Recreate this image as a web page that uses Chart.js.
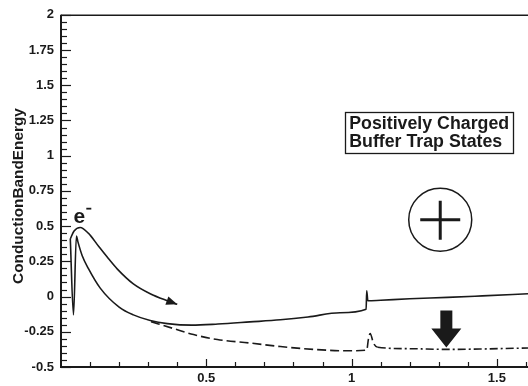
<!DOCTYPE html>
<html><head><meta charset="utf-8">
<script src="https://cdn.jsdelivr.net/npm/chart.js@4/dist/chart.umd.min.js"></script>
<style>html,body{margin:0;padding:0;background:#fff;overflow:hidden}#wrap{width:528px;height:386px}</style>
</head><body><div id="wrap"><canvas id="c" width="528" height="386"></canvas></div>
<script>
// ---- data ----
const solidX = [0.032,0.043,0.053,0.058,0.073,0.094,0.135,0.2,0.249,0.307,0.366,0.45,0.54,0.65,0.755,0.85,0.96,1.05,1.052,1.056,1.1,1.2,1.33,1.45,1.607];
const solidY = [0.41,-0.13,0.43,0.39,0.29,0.2,0.06,-0.075,-0.13,-0.17,-0.192,-0.203,-0.195,-0.18,-0.165,-0.145,-0.115,-0.09,0.04,-0.03,-0.026,-0.016,-0.006,0.005,0.02];

const dashedX = [0.31,0.387,0.456,0.538,0.651,0.755,0.87,0.985,1.052,1.058,1.064,1.075,1.09,1.2,1.329,1.45,1.607];
const dashedY = [-0.178,-0.227,-0.27,-0.305,-0.33,-0.355,-0.375,-0.385,-0.38,-0.3,-0.262,-0.33,-0.36,-0.37,-0.375,-0.372,-0.365];

const pathX = [0.032,0.045,0.066,0.094,0.13,0.163,0.194,0.249,0.307,0.366,0.40];
const pathY = [0.41,0.465,0.49,0.45,0.355,0.27,0.195,0.09,0.02,-0.03,-0.055];

const yTickValues = [-0.5,-0.25,0,0.25,0.5,0.75,1,1.25,1.5,1.75,2];
const yTickLabels = ['-0.5','-0.25','0','0.25','0.5','0.75','1','1.25','1.5','1.75','2'];
const xTickValues = [0.5,1,1.5];
const xTickLabels = ['0.5','1','1.5'];
const yTitle = 'ConductionBandEnergy';
const noteLines = ['Positively Charged','Buffer Trap States'];
const electronLabel = 'e';

const FONT = '"Liberation Sans", Arial, sans-serif';
const INK = '#1a1a1a';
const toPts = (xs, ys) => xs.map((x, i) => ({x, y: ys[i]}));

const deco = {
  id: 'deco',
  afterDraw(chart) {
    const ctx = chart.ctx, xs = chart.scales.x, ys = chart.scales.y, a = chart.chartArea;
    ctx.save();
    ctx.strokeStyle = INK; ctx.fillStyle = INK;
    // axes frame
    ctx.lineWidth = 2;
    ctx.beginPath(); ctx.moveTo(a.left, a.top); ctx.lineTo(a.left, a.bottom); ctx.lineTo(a.right, a.bottom); ctx.stroke();
    ctx.lineWidth = 1.5;
    ctx.beginPath(); ctx.moveTo(a.left, a.top + 0.5); ctx.lineTo(a.right, a.top + 0.5); ctx.stroke();
    // inward ticks
    ctx.lineWidth = 1.2;
    for (let i = 0; i <= 50; i++) {
      const v = -0.5 + i * 0.05, major = i % 5 === 0;
      const p = Math.round(ys.getPixelForValue(v)) + 0.5;
      ctx.beginPath(); ctx.moveTo(a.left, p); ctx.lineTo(a.left + (major ? 10 : 6), p); ctx.stroke();
    }
    for (let i = 1; i <= 16; i++) {
      const v = i * 0.1, major = i % 5 === 0;
      const p = Math.round(xs.getPixelForValue(v)) + 0.5;
      if (p > a.right) break;
      ctx.beginPath(); ctx.moveTo(p, a.bottom); ctx.lineTo(p, a.bottom - (major ? 8 : 5)); ctx.stroke();
    }
    // y title
    ctx.save();
    let fs = 14; ctx.font = `bold ${fs}px ${FONT}`;
    fs = fs * 176 / ctx.measureText(yTitle).width; ctx.font = `bold ${fs}px ${FONT}`;
    ctx.translate(18.5, 196); ctx.rotate(-Math.PI / 2);
    ctx.textAlign = 'center'; ctx.textBaseline = 'middle';
    ctx.fillText(yTitle, 0, 0);
    ctx.restore();
    // arrow head at end of the electron path
    const meta = chart.getDatasetMeta(2);
    const n = meta.data.length;
    const p1 = meta.data[n - 1], p0 = meta.data[n - 2];
    const ang = Math.atan2(p1.y - p0.y, p1.x - p0.x);
    ctx.save(); ctx.translate(p1.x, p1.y); ctx.rotate(ang);
    ctx.beginPath(); ctx.moveTo(0, 0); ctx.lineTo(-11, -4.5); ctx.lineTo(-11, 4.5); ctx.closePath(); ctx.fill();
    ctx.restore();
    // e- label
    ctx.font = `bold 21px ${FONT}`; ctx.textAlign = 'center'; ctx.textBaseline = 'middle';
    const ex = xs.getPixelForValue(0.063), ey = ys.getPixelForValue(0.56);
    ctx.fillText(electronLabel, ex, ey);
    ctx.lineWidth = 1.8;
    ctx.beginPath(); ctx.moveTo(ex + 7, ey - 9); ctx.lineTo(ex + 12, ey - 9); ctx.stroke();
    // note box
    const bx0 = xs.getPixelForValue(0.978), bx1 = xs.getPixelForValue(1.556);
    const by0 = ys.getPixelForValue(1.31), by1 = ys.getPixelForValue(1.02);
    ctx.lineWidth = 1.3;
    ctx.strokeRect(Math.round(bx0) + 0.5, Math.round(by0) + 0.5, Math.round(bx1 - bx0), Math.round(by1 - by0));
    let nf = 14; ctx.font = `bold ${nf}px ${FONT}`;
    nf = nf * 160 / ctx.measureText(noteLines[0]).width; ctx.font = `bold ${nf}px ${FONT}`;
    ctx.textAlign = 'left'; ctx.textBaseline = 'middle';
    ctx.fillText(noteLines[0], bx0 + 4, by0 + 12.5);
    ctx.fillText(noteLines[1], bx0 + 4, by0 + 30);
    // circled plus
    const cx = xs.getPixelForValue(1.305), cy = ys.getPixelForValue(0.545);
    ctx.lineWidth = 1.5;
    ctx.beginPath(); ctx.arc(cx, cy, 31.5, 0, Math.PI * 2); ctx.stroke();
    ctx.lineWidth = 3;
    ctx.beginPath(); ctx.moveTo(cx - 20, cy); ctx.lineTo(cx + 20, cy);
    ctx.moveTo(cx, cy - 19); ctx.lineTo(cx, cy + 20); ctx.stroke();
    // down arrow
    const ax = xs.getPixelForValue(1.326), atop = ys.getPixelForValue(-0.099), atip = ys.getPixelForValue(-0.361);
    ctx.beginPath();
    ctx.moveTo(ax - 6, atop); ctx.lineTo(ax + 6, atop); ctx.lineTo(ax + 6, atop + 18);
    ctx.lineTo(ax + 15, atop + 18); ctx.lineTo(ax, atip); ctx.lineTo(ax - 15, atop + 18);
    ctx.lineTo(ax - 6, atop + 18); ctx.closePath(); ctx.fill();
    ctx.restore();
  }
};

new Chart(document.getElementById('c'), {
  type: 'line',
  data: {
    datasets: [
      { data: toPts(solidX, solidY), borderColor: INK, borderWidth: 1.6, pointRadius: 0, cubicInterpolationMode: 'monotone', fill: false },
      { data: toPts(dashedX, dashedY), borderColor: INK, borderWidth: 1.6, pointRadius: 0, cubicInterpolationMode: 'monotone', fill: false,
        borderDash: [9, 4],
        segment: { borderDash: c => c.p0.parsed.x >= 1.09 ? [8, 3, 2, 3] : [9, 4] } },
      { data: toPts(pathX, pathY), borderColor: INK, borderWidth: 1.6, pointRadius: 0, cubicInterpolationMode: 'monotone', fill: false }
    ]
  },
  options: {
    responsive: false, animation: false, devicePixelRatio: 1,
    layout: { padding: { top: 12, right: 0, left: 0, bottom: 0 } },
    plugins: { legend: { display: false }, tooltip: { enabled: false } },
    scales: {
      x: {
        type: 'linear', min: 0, max: 1.607,
        afterFit: s => { s.height = 19; },
        afterBuildTicks: s => { s.ticks = xTickValues.map(v => ({ value: v })); },
        grid: { display: false, drawTicks: false }, border: { display: false },
        ticks: { padding: 4, color: INK, font: { family: FONT, size: 13, weight: 'bold' }, maxRotation: 0,
          callback: v => xTickLabels[xTickValues.indexOf(v)] }
      },
      y: {
        type: 'linear', min: -0.5, max: 2,
        afterFit: s => { s.width = 61; },
        afterBuildTicks: s => { s.ticks = yTickValues.map(v => ({ value: v })); },
        grid: { display: false, drawTicks: false }, border: { display: false },
        ticks: { padding: 7, color: INK, font: { family: FONT, size: 13, weight: 'bold' },
          callback: v => yTickLabels[yTickValues.indexOf(v)] }
      }
    }
  },
  plugins: [deco]
});
</script></body></html>
